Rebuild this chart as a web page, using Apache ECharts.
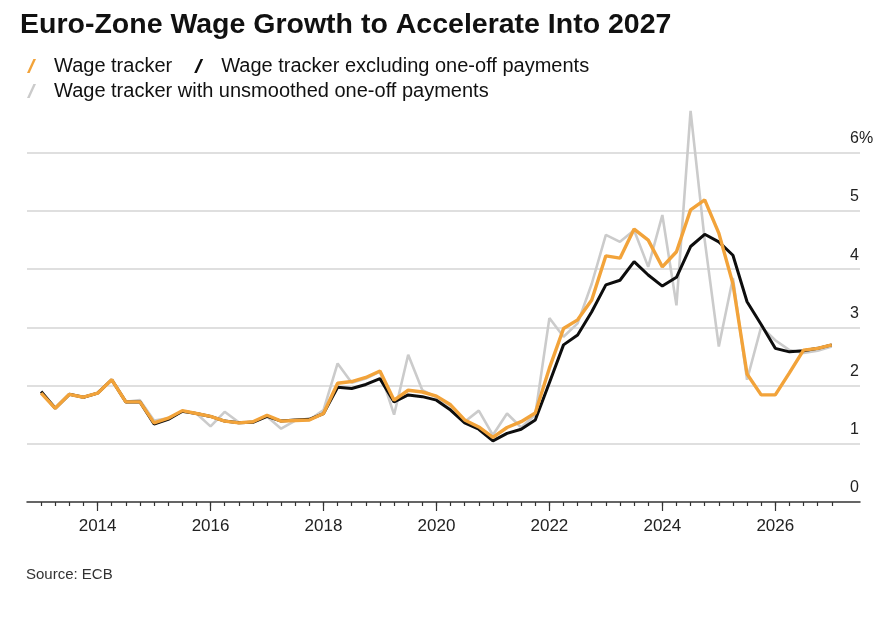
<!DOCTYPE html>
<html>
<head>
<meta charset="utf-8">
<title>Euro-Zone Wage Growth</title>
<script src="https://cdn.jsdelivr.net/npm/echarts@6/dist/echarts.min.js"></script>
<style>
  html, body { margin: 0; padding: 0; background: #fff; }
  #main { width: 895px; height: 619px; }
</style>
</head>
<body>
<div id="main"></div>
<script>
// quarters, 2013Q1 .. 2027Q1
var quarters = [
  '2013Q1','2013Q2','2013Q3','2013Q4','2014Q1','2014Q2','2014Q3','2014Q4',
  '2015Q1','2015Q2','2015Q3','2015Q4','2016Q1','2016Q2','2016Q3','2016Q4',
  '2017Q1','2017Q2','2017Q3','2017Q4','2018Q1','2018Q2','2018Q3','2018Q4',
  '2019Q1','2019Q2','2019Q3','2019Q4','2020Q1','2020Q2','2020Q3','2020Q4',
  '2021Q1','2021Q2','2021Q3','2021Q4','2022Q1','2022Q2','2022Q3','2022Q4',
  '2023Q1','2023Q2','2023Q3','2023Q4','2024Q1','2024Q2','2024Q3','2024Q4',
  '2025Q1','2025Q2','2025Q3','2025Q4','2026Q1','2026Q2','2026Q3','2026Q4',
  '2027Q1'
];

var wageTracker = [
  1.87, 1.61, 1.85, 1.80, 1.87, 2.10, 1.72, 1.72,
  1.36, 1.44, 1.57, 1.52, 1.47, 1.39, 1.36, 1.38,
  1.49, 1.39, 1.40, 1.41, 1.52, 2.04, 2.07, 2.14,
  2.25, 1.75, 1.92, 1.89, 1.82, 1.67, 1.41, 1.29,
  1.11, 1.28, 1.38, 1.53, 2.30, 2.98, 3.13, 3.47,
  4.23, 4.19, 4.69, 4.50, 4.04, 4.30, 5.02, 5.19,
  4.62, 3.75, 2.20, 1.84, 1.84, 2.22, 2.61, 2.64,
  2.70
];

var wageExOneOff = [
  1.90, 1.61, 1.85, 1.80, 1.87, 2.10, 1.72, 1.72,
  1.34, 1.42, 1.56, 1.52, 1.47, 1.39, 1.36, 1.37,
  1.47, 1.39, 1.41, 1.42, 1.52, 1.97, 1.95, 2.02,
  2.12, 1.72, 1.84, 1.81, 1.75, 1.58, 1.36, 1.25,
  1.05, 1.18, 1.25, 1.41, 2.05, 2.70, 2.87, 3.27,
  3.73, 3.81, 4.13, 3.90, 3.71, 3.86, 4.39, 4.60,
  4.47, 4.24, 3.44, 3.05, 2.64, 2.58, 2.60, 2.64,
  2.70
];

var wageUnsmoothed = [
  1.87, 1.61, 1.85, 1.80, 1.87, 2.10, 1.72, 1.75,
  1.40, 1.44, 1.55, 1.52, 1.30, 1.55, 1.37, 1.38,
  1.47, 1.26, 1.40, 1.41, 1.58, 2.38, 2.05, 2.12,
  2.24, 1.50, 2.53, 1.92, 1.80, 1.65, 1.38, 1.57,
  1.15, 1.52, 1.28, 1.50, 3.16, 2.84, 3.07, 3.75,
  4.59, 4.47, 4.67, 4.04, 4.93, 3.38, 6.72, 4.50,
  2.67, 3.85, 2.10, 3.01, 2.78, 2.61, 2.56, 2.60,
  2.67
];

var yearLabels = [2014, 2016, 2018, 2020, 2022, 2024, 2026];
var yTicks = [0, 1, 2, 3, 4, 5, 6];

var seriesNames = [
  'Wage tracker',
  'Wage tracker excluding one-off payments',
  'Wage tracker with unsmoothed one-off payments'
];

function quarterToYear(q) {
  return parseInt(q.slice(0, 4), 10) + (parseInt(q.slice(5), 10) - 1) / 4;
}

var xValues = quarters.map(quarterToYear);

function pairUp(values) {
  var d = [];
  for (let i = 0; i < values.length; i++) {
    d.push([xValues[i], values[i]]);
  }
  return d;
}

var FONT = '"Liberation Sans", Arial, sans-serif';
var legendIcon = 'path://M0,14 L2.6,14 L9,0 L6.4,0 Z';

var chart = echarts.init(document.getElementById('main'), null, { renderer: 'canvas' });

var option = {
  animation: false,
  backgroundColor: '#fff',
  textStyle: { fontFamily: FONT },
  title: [
    {
      text: 'Euro-Zone Wage Growth to Accelerate Into 2027',
      left: 15,
      top: 6,
      textStyle: {
        fontFamily: FONT,
        fontSize: 28.5,
        fontWeight: 'bold',
        color: '#111'
      }
    },
    {
      text: 'Source: ECB',
      left: 21,
      top: 562,
      textStyle: {
        fontFamily: FONT,
        fontSize: 15,
        fontWeight: 'normal',
        color: '#333'
      }
    }
  ],
  legend: [
    {
      data: [seriesNames[0], seriesNames[1]],
      left: 22,
      top: 51,
      icon: legendIcon,
      itemWidth: 9,
      itemHeight: 14,
      itemGap: 22,
      selectedMode: false,
      textStyle: { fontFamily: FONT, fontSize: 20, color: '#111', padding: [0, 0, 0, 13] }
    },
    {
      data: [seriesNames[2]],
      left: 22,
      top: 76,
      icon: legendIcon,
      itemWidth: 9,
      itemHeight: 14,
      selectedMode: false,
      textStyle: { fontFamily: FONT, fontSize: 20, color: '#111', padding: [0, 0, 0, 13] }
    }
  ],
  grid: {
    left: 27,
    right: 35,
    top: 94.6,
    bottom: 117
  },
  xAxis: [
    {
      type: 'value',
      min: 2012.75,
      max: 2027.5,
      position: 'bottom',
      axisLine: { show: true, lineStyle: { color: '#333', width: 1.5 } },
      axisTick: {
        show: true,
        customValues: xValues,
        length: 4,
        lineStyle: { color: '#333', width: 1.2 }
      },
      axisLabel: {
        customValues: yearLabels,
        formatter: function (v) { return String(v); },
        fontFamily: FONT,
        fontSize: 17,
        color: '#222',
        margin: 16
      },
      splitLine: { show: false }
    },
    {
      // longer ticks on even years
      type: 'value',
      min: 2012.75,
      max: 2027.5,
      position: 'bottom',
      axisLine: { show: false },
      axisTick: {
        show: true,
        customValues: yearLabels,
        length: 9,
        lineStyle: { color: '#333', width: 1.2 }
      },
      axisLabel: { show: false },
      splitLine: { show: false }
    }
  ],
  yAxis: {
    type: 'value',
    position: 'right',
    min: 0,
    max: 7,
    interval: 1,
    axisLine: { show: false },
    axisTick: { show: false },
    splitLine: {
      show: true,
      showMaxLine: false,
      lineStyle: {
        color: ['transparent', '#d4d4d4', '#d4d4d4', '#d4d4d4', '#d4d4d4', '#d4d4d4', '#d4d4d4', 'transparent'],
        width: 1.5
      }
    },
    axisLabel: {
      inside: true,
      align: 'left',
      verticalAlign: 'bottom',
      margin: 10,
      padding: [0, 0, 6, 0],
      lineHeight: 16,
      fontFamily: FONT,
      fontSize: 16,
      color: '#222',
      formatter: function (v) {
        if (yTicks.indexOf(v) < 0) return '';
        return v === 6 ? '6%' : String(v);
      }
    }
  },
  series: [
    {
      name: seriesNames[2],
      type: 'line',
      data: pairUp(wageUnsmoothed),
      symbol: 'none',
      color: '#cbcbcb',
      lineStyle: { color: '#cbcbcb', width: 2.6 },
      z: 2
    },
    {
      name: seriesNames[1],
      type: 'line',
      data: pairUp(wageExOneOff),
      symbol: 'none',
      color: '#0d0d0d',
      lineStyle: { color: '#0d0d0d', width: 3 },
      z: 3
    },
    {
      name: seriesNames[0],
      type: 'line',
      data: pairUp(wageTracker),
      symbol: 'none',
      color: '#f2a33a',
      lineStyle: { color: '#f2a33a', width: 3.4 },
      z: 4
    }
  ]
};

chart.setOption(option);
</script>
</body>
</html>
